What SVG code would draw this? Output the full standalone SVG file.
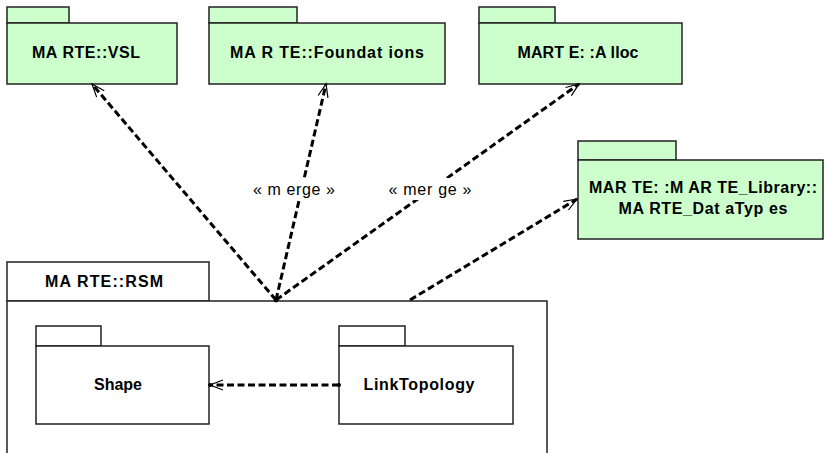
<svg xmlns="http://www.w3.org/2000/svg" width="825" height="453" viewBox="0 0 825 453">
<style>
.pk{fill:#ccffcc;stroke:#222;stroke-width:1.5}
.pw{fill:#ffffff;stroke:#222;stroke-width:1.5}
.t{font-family:"Liberation Sans",Arial,sans-serif;font-weight:bold;font-size:16px;fill:#000;text-anchor:middle}
.lb{font-family:"Liberation Sans",Arial,sans-serif;font-size:16px;fill:#000;text-anchor:middle}
.c{fill:none;stroke:#000;stroke-width:3;stroke-dasharray:7 3.5;marker-end:url(#open)}
</style>
<defs>
<marker id="open" markerUnits="userSpaceOnUse" markerWidth="30" markerHeight="30" refX="0" refY="0" viewBox="-15 -15 30 30" orient="auto" overflow="visible">
<path d="M-13,-5 L0,0 L-13,5" fill="none" stroke="#000" stroke-width="1.2"/>
</marker>
</defs>
<rect width="825" height="453" fill="#fff"/>
<g id="rsm">
<rect class="pw" x="7" y="262" width="202" height="39"/>
<rect class="pw" x="7" y="301" width="540" height="160"/>
<text class="t" x="104" y="287" textLength="118" lengthAdjust="spacing">MA RTE::RSM</text>
</g>
<g id="shape">
<rect class="pw" x="36" y="326" width="65" height="20"/>
<rect class="pw" x="36" y="346" width="173" height="78"/>
<text class="t" x="118" y="390">Shape</text>
</g>
<g id="linktopology">
<rect class="pw" x="339" y="326" width="66" height="20"/>
<rect class="pw" x="339" y="346" width="174" height="78"/>
<text class="t" x="419" y="390" textLength="111" lengthAdjust="spacing">LinkTopology</text>
</g>
<g id="vsl">
<rect class="pk" x="7" y="7" width="62" height="16"/>
<rect class="pk" x="7" y="23" width="170" height="61"/>
<text class="t" x="86" y="58" textLength="108" lengthAdjust="spacing">MA RTE::VSL</text>
</g>
<g id="foundations">
<rect class="pk" x="209" y="7" width="88" height="16"/>
<rect class="pk" x="209" y="23" width="236" height="61"/>
<text class="t" x="327" y="58" textLength="194" lengthAdjust="spacing">MA R TE::Foundat ions</text>
</g>
<g id="alloc">
<rect class="pk" x="479" y="7" width="76" height="16"/>
<rect class="pk" x="479" y="23" width="203" height="61"/>
<text class="t" x="578" y="58" textLength="121" lengthAdjust="spacing">MART E: :A lloc</text>
</g>
<g id="datatypes">
<rect class="pk" x="578" y="141" width="98" height="19"/>
<rect class="pk" x="578" y="160" width="245" height="79"/>
<text class="t" x="703" y="193" textLength="228" lengthAdjust="spacing">MAR TE: :M AR TE_Library::</text>
<text class="t" x="703" y="214" textLength="169" lengthAdjust="spacing">MA RTE_Dat aTyp es</text>
</g>
<g id="connectors">
<line class="c" x1="276" y1="300" x2="92" y2="84"/>
<line class="c" x1="276" y1="300" x2="326" y2="84"/>
<line class="c" x1="276" y1="300" x2="579" y2="84"/>
<line class="c" x1="410" y1="300" x2="577" y2="199"/>
<line class="c" x1="339" y1="385" x2="210" y2="385"/>
<circle cx="276" cy="300" r="2.4" fill="#000"/>
<circle cx="339" cy="385" r="2" fill="#000"/>
<circle cx="210" cy="385" r="2" fill="#000"/>
<rect x="250" y="178" width="88" height="22" fill="#fff"/>
<text class="lb" x="294" y="195" textLength="82" lengthAdjust="spacing">« m erge »</text>
<rect x="385" y="178" width="90" height="22" fill="#fff"/>
<text class="lb" x="430" y="195" textLength="83" lengthAdjust="spacing">« mer ge »</text>
</g>
</svg>
